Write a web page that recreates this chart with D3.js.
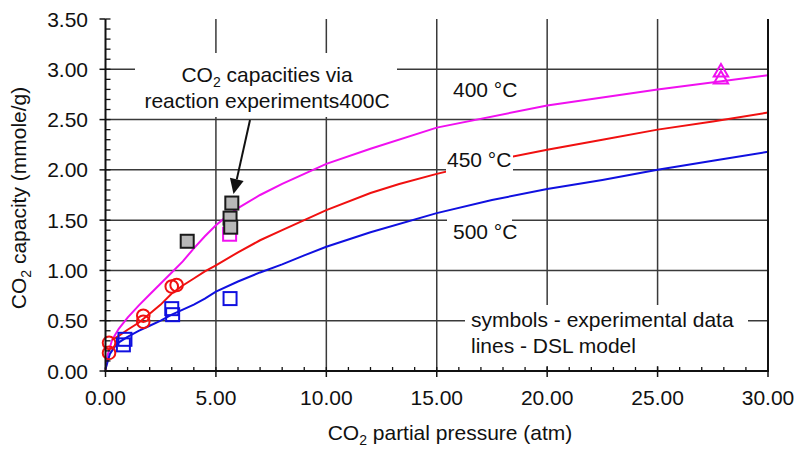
<!DOCTYPE html>
<html><head><meta charset="utf-8">
<script src="https://cdn.jsdelivr.net/npm/d3@7"></script>
<style>
html,body{margin:0;padding:0;background:#fff;}
svg{display:block;font-family:"Liberation Sans",Arial,sans-serif;}
</style></head>
<body><svg id="c" width="796" height="452"></svg>
<script>
// ---- data ----
const xTicks = [0, 5, 10, 15, 20, 25, 30];
const yTicks = [0, 0.5, 1.0, 1.5, 2.0, 2.5, 3.0, 3.5];
const xMinor = d3.range(0, 31, 1);
const yMinor = d3.range(0, 36, 1).map(d => d / 10);

const model400 = [[0,0],[0.1,0.16],[0.3,0.31],[0.6,0.42],[1.0,0.53],[1.5,0.65],[2.0,0.76],[2.5,0.87],[3.0,0.98],[3.5,1.09],[4.0,1.22],[4.5,1.34],[5.0,1.45],[5.5,1.54],[6.0,1.62],[7.0,1.75],[8.0,1.86],[9.0,1.96],[10.0,2.06],[12.0,2.21],[15.0,2.42],[20.0,2.64],[25.0,2.80],[30.0,2.94]];
const model450 = [[0.3,0.31],[0.6,0.35],[1.0,0.41],[1.5,0.48],[2.0,0.57],[2.5,0.66],[3.0,0.77],[3.5,0.85],[4.0,0.92],[4.5,0.99],[5.0,1.05],[6.0,1.18],[7.0,1.30],[8.0,1.40],[9.0,1.50],[10.0,1.60],[12.0,1.77],[13.3,1.86],[15.0,1.96],[17.5,2.09],[20.0,2.20],[22.5,2.30],[25.0,2.40],[27.5,2.48],[30.0,2.57]];
const model500 = [[0,0.02],[0.2,0.17],[0.5,0.27],[1.0,0.34],[1.5,0.40],[2.0,0.45],[2.5,0.50],[3.0,0.56],[3.5,0.61],[4.0,0.66],[4.5,0.72],[5.0,0.79],[6.0,0.89],[7.0,0.98],[8.0,1.06],[9.0,1.15],[10.0,1.235],[12.0,1.38],[15.0,1.57],[17.5,1.70],[20.0,1.81],[22.5,1.90],[25.0,2.00],[27.5,2.09],[30.0,2.18]];

const exp400Squares = [[5.62,1.36]];
const exp400Triangles = [[27.87,2.97],[27.87,2.90]];
const exp450Circles = [[0.16,0.28],[0.16,0.18],[1.71,0.55],[1.71,0.49],[3.0,0.84],[3.22,0.855]];
const exp500Squares = [[0.88,0.315],[0.81,0.26],[3.0,0.62],[3.04,0.56],[5.64,0.72]];
const reactionSquares = [[3.70,1.29],[5.72,1.67],[5.64,1.52],[5.67,1.43]];

// ---- layout ----
const svg = d3.select("#c");
const x = d3.scaleLinear().domain([0, 30]).range([105.5, 768]);
const y = d3.scaleLinear().domain([0, 3.5]).range([371, 19]);
const FS = 21;
const gridCol = "#3a3a3a";

// gridlines
const g = svg.append("g");
g.selectAll(".hg").data(yTicks.filter(d => d > 0 && d < 3.5)).join("line")
  .attr("x1", x(0)).attr("x2", x(30)).attr("y1", d => y(d)).attr("y2", d => y(d))
  .attr("stroke", gridCol).attr("stroke-width", 1.5);
g.selectAll(".vg").data(xTicks.filter(d => d > 0 && d < 30)).join("line")
  .attr("x1", d => x(d)).attr("x2", d => x(d)).attr("y1", y(3.5)).attr("y2", y(0))
  .attr("stroke", gridCol).attr("stroke-width", 1.5);

// model lines
const line = d3.line().x(d => x(d[0])).y(d => y(d[1]));
const curves = [[model400, "#f010f0"], [model450, "#f01010"], [model500, "#1010e0"]];
curves.forEach(([data, col]) => {
  svg.append("path").attr("d", line(data)).attr("fill", "none")
    .attr("stroke", col).attr("stroke-width", 2);
});

// white label boxes
function box(x0, y0, x1, y1) {
  svg.append("rect").attr("x", x0).attr("y", y0).attr("width", x1 - x0).attr("height", y1 - y0).attr("fill", "#fff");
}
box(135, 53, 397, 117);
box(446, 147, 513, 176);
box(447, 214, 512, 245);
box(465, 305, 748, 366);

function label(tx, ty, txt, anchor) {
  return svg.append("text").attr("x", tx).attr("y", ty).attr("font-size", FS)
    .attr("fill", "#111").attr("text-anchor", anchor || "start").text(txt);
}
label(453, 97, "400 °C");
label(447, 167, "450 °C");
label(453, 239, "500 °C");
label(471, 327, "symbols - experimental data");
label(471, 353, "lines - DSL model");

// annotation
const ann = svg.append("text").attr("x", 267).attr("y", 82).attr("font-size", FS)
  .attr("fill", "#111").attr("text-anchor", "middle");
ann.append("tspan").text("CO");
ann.append("tspan").attr("font-size", 14).attr("dy", 5).text("2");
ann.append("tspan").attr("dy", -5).text(" capacities via");
label(267, 108, "reaction experiments400C", "middle");

// arrow
const ax0 = 250, ay0 = 120, ax1 = 233.5, ay1 = 194;
const ang = Math.atan2(ay1 - ay0, ax1 - ax0);
const hl = 15, hw = 7;
const bx = ax1 - hl * Math.cos(ang), by = ay1 - hl * Math.sin(ang);
svg.append("line").attr("x1", ax0).attr("y1", ay0).attr("x2", bx).attr("y2", by)
  .attr("stroke", "#111").attr("stroke-width", 2);
svg.append("path").attr("fill", "#111")
  .attr("d", `M${ax1},${ay1}L${bx + hw * Math.sin(ang)},${by - hw * Math.cos(ang)}L${bx - hw * Math.sin(ang)},${by + hw * Math.cos(ang)}Z`);

// markers
const S = 13;
svg.selectAll(".m4s").data(exp400Squares).join("rect")
  .attr("x", d => x(d[0]) - S / 2).attr("y", d => y(d[1]) - S / 2).attr("width", S).attr("height", S)
  .attr("fill", "none").attr("stroke", "#f010f0").attr("stroke-width", 2);
svg.selectAll(".m5s").data(exp500Squares).join("rect")
  .attr("x", d => x(d[0]) - S / 2).attr("y", d => y(d[1]) - S / 2).attr("width", S).attr("height", S)
  .attr("fill", "none").attr("stroke", "#1010e0").attr("stroke-width", 2);
svg.selectAll(".m45").data(exp450Circles).join("circle")
  .attr("cx", d => x(d[0])).attr("cy", d => y(d[1])).attr("r", 6.3)
  .attr("fill", "none").attr("stroke", "#f01010").attr("stroke-width", 2);
svg.selectAll(".mr").data(reactionSquares).join("rect")
  .attr("x", d => x(d[0]) - S / 2).attr("y", d => y(d[1]) - S / 2).attr("width", S).attr("height", S)
  .attr("fill", "#b8b8b8").attr("stroke", "#1a1a1a").attr("stroke-width", 2);
const tri = d3.symbol().type(d3.symbolTriangle).size(90);
svg.selectAll(".mt").data(exp400Triangles).join("path")
  .attr("transform", d => `translate(${x(d[0])},${y(d[1])})`).attr("d", tri)
  .attr("fill", "none").attr("stroke", "#f010f0").attr("stroke-width", 2);

// axes
const axG = svg.append("g");
// right border
axG.append("line").attr("x1", x(30)).attr("x2", x(30)).attr("y1", y(3.5)).attr("y2", y(0))
  .attr("stroke", "#111").attr("stroke-width", 2);
// y axis
axG.append("line").attr("x1", x(0)).attr("x2", x(0)).attr("y1", y(3.5)).attr("y2", y(0) + 1)
  .attr("stroke", "#111").attr("stroke-width", 2);
axG.selectAll(".ymin").data(yMinor).join("line")
  .attr("x1", x(0)).attr("x2", x(0) + 5).attr("y1", d => y(d)).attr("y2", d => y(d))
  .attr("stroke", "#111").attr("stroke-width", 1.3);
axG.selectAll(".ymaj").data(yTicks).join("line")
  .attr("x1", x(0) - 6).attr("x2", x(0)).attr("y1", d => y(d)).attr("y2", d => y(d))
  .attr("stroke", "#111").attr("stroke-width", 1.5);
axG.selectAll(".ylab").data(yTicks).join("text")
  .attr("x", 88).attr("y", d => y(d)).attr("dy", "0.36em").attr("text-anchor", "end")
  .attr("font-size", FS).attr("fill", "#111").text(d => d3.format(".2f")(d));
// x axis
axG.append("line").attr("x1", x(0) - 1).attr("x2", x(30) + 1).attr("y1", y(0)).attr("y2", y(0))
  .attr("stroke", "#111").attr("stroke-width", 2);
axG.selectAll(".xmin").data(xMinor).join("line")
  .attr("x1", d => x(d)).attr("x2", d => x(d)).attr("y1", y(0) - 4).attr("y2", y(0))
  .attr("stroke", "#111").attr("stroke-width", 1.3);
axG.selectAll(".xmaj").data(xTicks).join("line")
  .attr("x1", d => x(d)).attr("x2", d => x(d)).attr("y1", y(0)).attr("y2", y(0) + 6)
  .attr("stroke", "#111").attr("stroke-width", 1.5);
axG.selectAll(".xlab").data(xTicks).join("text")
  .attr("x", d => x(d)).attr("y", 405).attr("text-anchor", "middle")
  .attr("font-size", FS).attr("fill", "#111").text(d => d3.format(".2f")(d));

// axis titles
const xt = svg.append("text").attr("x", 450).attr("y", 440).attr("text-anchor", "middle")
  .attr("font-size", FS).attr("fill", "#111");
xt.append("tspan").text("CO");
xt.append("tspan").attr("font-size", 14).attr("dy", 5).text("2");
xt.append("tspan").attr("dy", -5).text(" partial pressure (atm)");

const yt = svg.append("text").attr("transform", "translate(26,198) rotate(-90)")
  .attr("text-anchor", "middle").attr("font-size", FS).attr("fill", "#111");
yt.append("tspan").text("CO");
yt.append("tspan").attr("font-size", 14).attr("dy", 5).text("2");
yt.append("tspan").attr("dy", -5).text(" capacity (mmole/g)");
</script>
</body></html>
